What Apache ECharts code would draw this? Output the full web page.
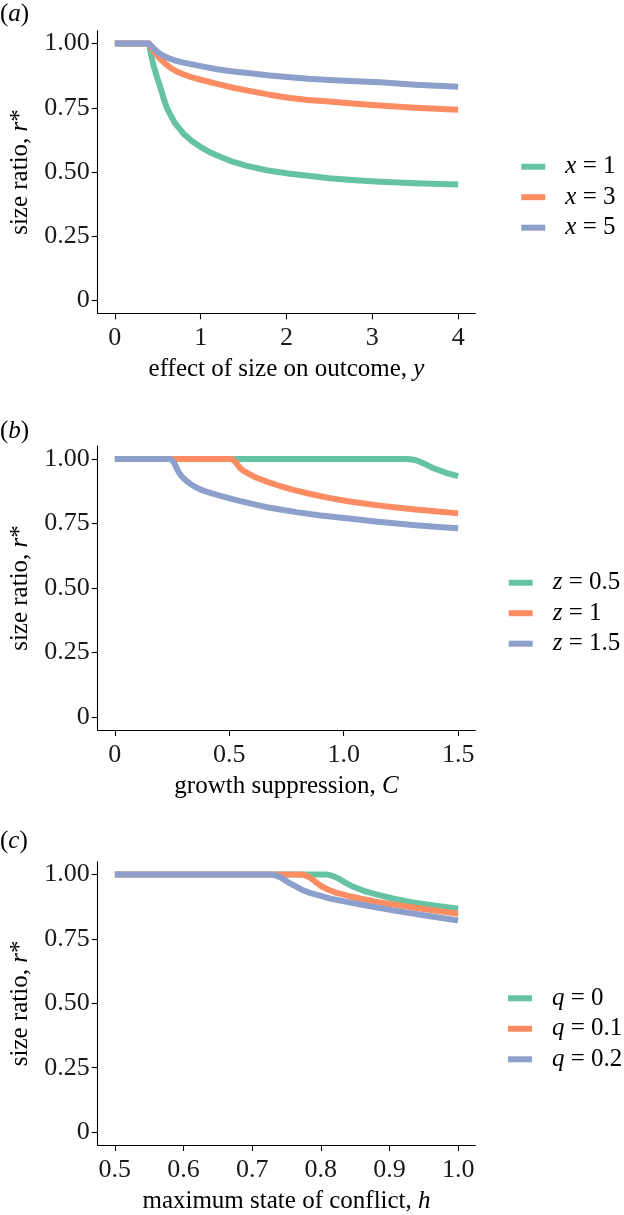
<!DOCTYPE html>
<html>
<head>
<meta charset="utf-8">
<script src="https://cdn.jsdelivr.net/npm/echarts@6/dist/echarts.min.js"></script>
<style>
html,body{margin:0;padding:0;background:#fff;}
#chart{width:624px;height:1215px;}
</style>
</head>
<body>
<div id="chart"></div>
<script>
// ---------- DATA ----------
// Panel (a): effect of size on outcome, y
const aNames = ['x = 1', 'x = 3', 'x = 5'];
const aX1 = [0, 0.40, 0.42, 0.45, 0.49, 0.53, 0.57, 0.61, 0.70, 0.80, 0.90, 1.00, 1.10, 1.20, 1.38, 1.55, 1.77, 2.04, 2.25, 2.50, 2.80, 3.09, 3.50, 4.00];
const aY1 = [1, 1, 0.96, 0.915, 0.87, 0.83, 0.785, 0.746, 0.69, 0.649, 0.62, 0.597, 0.578, 0.563, 0.539, 0.523, 0.507, 0.493, 0.485, 0.476, 0.468, 0.462, 0.456, 0.451];
const aX3 = [0, 0.40, 0.42, 0.45, 0.49, 0.53, 0.59, 0.65, 0.72, 0.80, 0.90, 1.00, 1.19, 1.38, 1.58, 1.80, 2.04, 2.25, 2.50, 2.80, 3.09, 3.50, 4.00];
const aY3 = [1, 1, 0.985, 0.972, 0.955, 0.94, 0.921, 0.905, 0.891, 0.88, 0.868, 0.859, 0.843, 0.828, 0.815, 0.801, 0.788, 0.780, 0.774, 0.766, 0.759, 0.750, 0.742];
const aX5 = [0, 0.39, 0.41, 0.43, 0.45, 0.49, 0.53, 0.59, 0.65, 0.72, 0.80, 0.90, 1.00, 1.19, 1.38, 1.58, 1.80, 2.04, 2.25, 2.50, 2.80, 3.09, 3.50, 4.00];
const aY5 = [1, 1, 0.997, 0.99, 0.982, 0.97, 0.959, 0.949, 0.94, 0.932, 0.926, 0.919, 0.912, 0.90, 0.891, 0.884, 0.876, 0.869, 0.863, 0.858, 0.853, 0.849, 0.840, 0.832];

// Panel (b): growth suppression, C
const bNames = ['z = 0.5', 'z = 1', 'z = 1.5'];
const bX1 = [0, 1.273, 1.29, 1.31, 1.33, 1.36, 1.39, 1.42, 1.448, 1.475, 1.50];
const bY1 = [1, 1, 0.999, 0.996, 0.99, 0.978, 0.965, 0.955, 0.946, 0.939, 0.933];
const bX2 = [0, 0.504, 0.515, 0.525, 0.535, 0.547, 0.56, 0.58, 0.60, 0.62, 0.67, 0.722, 0.78, 0.85, 0.93, 1.012, 1.08, 1.15, 1.23, 1.302, 1.40, 1.50];
const bY2 = [1, 1, 0.997, 0.99, 0.979, 0.965, 0.955, 0.945, 0.935, 0.927, 0.91, 0.895, 0.88, 0.865, 0.85, 0.837, 0.828, 0.82, 0.812, 0.805, 0.797, 0.789];
const bX3 = [0, 0.235, 0.245, 0.255, 0.265, 0.275, 0.287, 0.30, 0.315, 0.33, 0.35, 0.373, 0.41, 0.45, 0.518, 0.59, 0.664, 0.73, 0.80, 0.90, 1.012, 1.15, 1.302, 1.40, 1.50];
const bY3 = [1, 1, 0.998, 0.99, 0.974, 0.955, 0.938, 0.925, 0.913, 0.903, 0.892, 0.882, 0.87, 0.86, 0.843, 0.828, 0.813, 0.803, 0.793, 0.781, 0.770, 0.757, 0.744, 0.737, 0.731];

// Panel (c): maximum state of conflict, h
const cNames = ['q = 0', 'q = 0.1', 'q = 0.2'];
const cX1 = [0.5, 0.808, 0.813, 0.818, 0.823, 0.828, 0.835, 0.843, 0.852, 0.865, 0.881, 0.905, 0.929, 0.965, 1.0];
const cY1 = [1, 1, 0.998, 0.994, 0.988, 0.981, 0.97, 0.958, 0.948, 0.935, 0.923, 0.907, 0.894, 0.880, 0.867];
const cX2 = [0.5, 0.770, 0.776, 0.782, 0.788, 0.794, 0.80, 0.81, 0.823, 0.84, 0.857, 0.88, 0.905, 0.95, 1.0];
const cY2 = [1, 1, 0.998, 0.992, 0.981, 0.968, 0.956, 0.942, 0.929, 0.917, 0.907, 0.895, 0.884, 0.866, 0.848];
const cX3 = [0.5, 0.728, 0.734, 0.74, 0.745, 0.75, 0.758, 0.767, 0.775, 0.784, 0.80, 0.815, 0.832, 0.86, 0.905, 0.95, 1.0];
const cY3 = [1, 1, 0.997, 0.991, 0.983, 0.974, 0.962, 0.949, 0.938, 0.929, 0.917, 0.906, 0.897, 0.883, 0.861, 0.842, 0.822];

// Tick values / labels
const aXTicks = [0, 1, 2, 3, 4];
const aXLabels = ['0', '1', '2', '3', '4'];
const bXTicks = [0, 0.5, 1.0, 1.5];
const bXLabels = ['0', '0.5', '1.0', '1.5'];
const cXTicks = [0.5, 0.6, 0.7, 0.8, 0.9, 1.0];
const cXLabels = ['0.5', '0.6', '0.7', '0.8', '0.9', '1.0'];
const yTicks = [0, 0.25, 0.5, 0.75, 1.0];
const yLabels = ['0', '0.25', '0.50', '0.75', '1.00'];

const xTitles = ['effect of size on outcome, {i|y}', 'growth suppression, {i|C}', 'maximum state of conflict, {i|h}'];
const yTitle = 'size ratio, {i|r}*';
const panelLabels = ['({i|a})', '({i|b})', '({i|c})'];

const colors = ['#66C2A5', '#FC8D62', '#8DA0CB'];

// ---------- LAYOUT ----------
const FONT = "'Liberation Serif', 'Times New Roman', Times, serif";
const FS = 25;
const TFS = 26;
const grids = [
  {left: 97.7, top: 30.7, width: 377.6, height: 282.6},
  {left: 97.7, top: 446, width: 377.6, height: 284},
  {left: 97.7, top: 861.7, width: 377.6, height: 283.3}
];
const xRanges = [[-0.2, 4.2], [-0.075, 1.575], [0.475, 1.025]];
const legendPos = [{left: 521.3, top: 154.2}, {left: 508.7, top: 570.2}, {left: 508, top: 985.8}];
const labelTops = [15, 432, 842];

function zip(xs, ys) { return xs.map((x, i) => [x, ys[i]]); }
function labelFor(ticks, labels) {
  return v => {
    for (let i = 0; i < ticks.length; i++) if (Math.abs(ticks[i] - v) < 1e-6) return labels[i];
    return '';
  };
}
const rich = {i: {fontFamily: FONT, fontStyle: 'italic', fontSize: FS, color: '#000'}};
const axisLineStyle = {color: '#000', width: 1.1};

const xTickSets = [[aXTicks, aXLabels], [bXTicks, bXLabels], [cXTicks, cXLabels]];

const xAxis = [], yAxis = [];
for (let k = 0; k < 3; k++) {
  xAxis.push({
    type: 'value', gridIndex: k, min: xRanges[k][0], max: xRanges[k][1],
    name: xTitles[k], nameLocation: 'middle', nameGap: 44,
    nameTextStyle: {fontFamily: FONT, fontSize: FS, color: '#000', rich: rich},
    axisLine: {show: true, onZero: false, lineStyle: axisLineStyle},
    axisTick: {show: true, length: 6, lineStyle: axisLineStyle, customValues: xTickSets[k][0]},
    axisLabel: {fontFamily: FONT, fontSize: TFS, color: '#1a1a1a', margin: 12,
      customValues: xTickSets[k][0], formatter: labelFor(xTickSets[k][0], xTickSets[k][1])},
    splitLine: {show: false}
  });
  yAxis.push({
    type: 'value', gridIndex: k, min: -0.05, max: 1.05,
    name: yTitle, nameLocation: 'middle', nameGap: 63,
    nameTextStyle: {fontFamily: FONT, fontSize: FS, color: '#000', rich: rich},
    axisLine: {show: true, onZero: false, lineStyle: axisLineStyle},
    axisTick: {show: true, length: 6, lineStyle: axisLineStyle, customValues: yTicks},
    axisLabel: {fontFamily: FONT, fontSize: TFS, color: '#1a1a1a', margin: 8,
      customValues: yTicks, formatter: labelFor(yTicks, yLabels)},
    splitLine: {show: false}
  });
}

const panelData = [
  [aNames, [[aX1, aY1], [aX3, aY3], [aX5, aY5]]],
  [bNames, [[bX1, bY1], [bX2, bY2], [bX3, bY3]]],
  [cNames, [[cX1, cY1], [cX2, cY2], [cX3, cY3]]]
];

const series = [];
const legend = [];
panelData.forEach((p, k) => {
  const names = p[0];
  p[1].forEach((xy, j) => {
    series.push({
      type: 'line', name: names[j], xAxisIndex: k, yAxisIndex: k,
      data: zip(xy[0], xy[1]), showSymbol: false, symbol: 'none',
      smooth: false,
      color: colors[j],
      lineStyle: {width: 6, color: colors[j], cap: 'butt', join: 'round'},
      animation: false
    });
  });
  legend.push({
    data: names.map(n => ({name: n, icon: 'rect'})),
    left: legendPos[k].left, top: legendPos[k].top, padding: 0,
    orient: 'vertical', itemWidth: 24, itemHeight: 6, itemGap: 5.5,
    selectedMode: false,
    formatter: n => '{i|' + n[0] + '}' + n.slice(1),
    textStyle: {fontFamily: FONT, fontSize: FS, color: '#000', lineHeight: 25,
      padding: [0, 0, 0, 15], rich: rich}
  });
});

const graphic = panelLabels.map((t, k) => ({
  type: 'text', left: 0, top: labelTops[k] - 13,
  style: {text: t, fontFamily: FONT, fontSize: FS, fill: '#000',
    rich: {i: {fontFamily: FONT, fontStyle: 'italic', fontSize: FS, fill: '#000'}}}
}));

const chart = echarts.init(document.getElementById('chart'), null, {renderer: 'canvas'});
chart.setOption({
  backgroundColor: '#fff',
  animation: false,
  grid: grids,
  xAxis: xAxis,
  yAxis: yAxis,
  legend: legend,
  series: series,
  graphic: graphic
});
</script>
</body>
</html>
